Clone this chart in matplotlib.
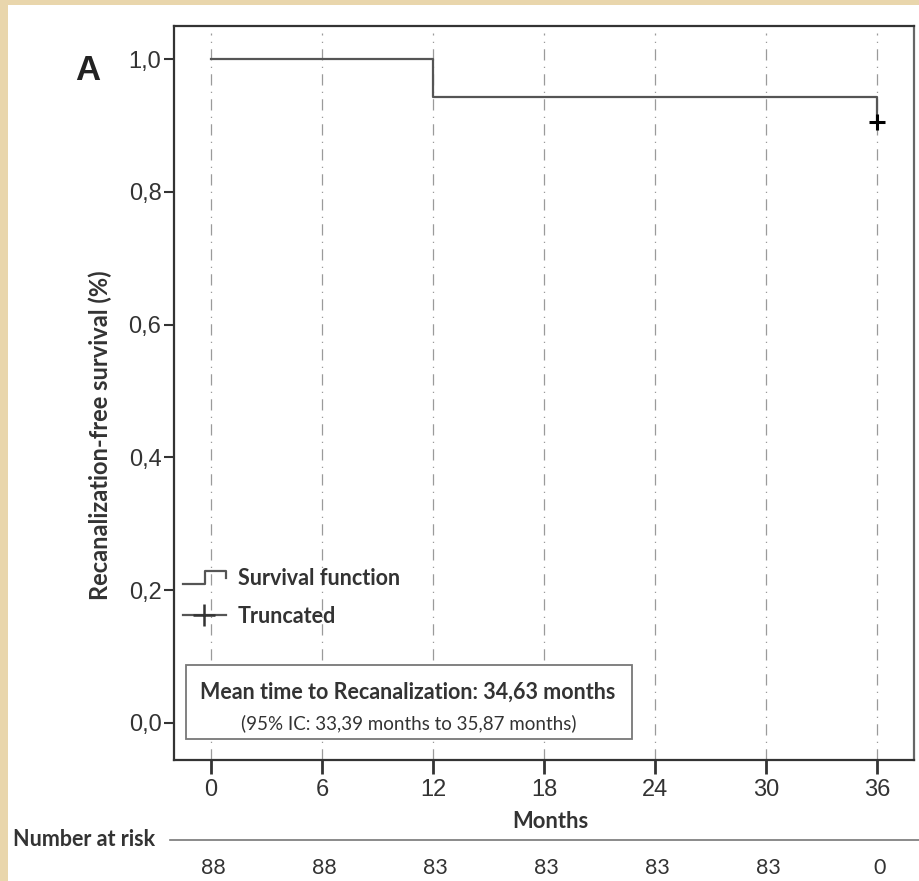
import matplotlib
matplotlib.use("Agg")
import matplotlib.pyplot as plt
from matplotlib.lines import Line2D
from matplotlib.patches import Rectangle
from matplotlib.legend_handler import HandlerBase
import matplotlib.transforms as mtransforms

# data
months = [0, 12, 36]
survival = [1.0, 0.943, 0.905]
censor_t = [36]
censor_s = [0.905]
x_ticks = [0, 6, 12, 18, 24, 30, 36]
y_ticks = [0.0, 0.2, 0.4, 0.6, 0.8, 1.0]
y_ticklabels = ["0,0", "0,2", "0,4", "0,6", "0,8", "1,0"]
at_risk = [88, 88, 83, 83, 83, 83, 0]

NARROW = ["Liberation Sans", "DejaVu Sans"]
HUMAN = ["Lato", "DejaVu Sans"]
INK = "#333333"


class StepHandler(HandlerBase):
    def create_artists(self, legend, orig_handle, xdescent, ydescent,
                       width, height, fontsize, trans):
        x0, y0 = -xdescent, -ydescent
        xs = [x0, x0 + width * 0.52, x0 + width * 0.52, x0 + width, x0 + width]
        ys = [y0 + height * 0.05, y0 + height * 0.05, y0 + height * 0.9,
              y0 + height * 0.9, y0 + height * 0.45]
        ln = Line2D(xs, ys, color="#555555", lw=1.6, transform=trans)
        return [ln]


fig = plt.figure(figsize=(9.2, 8.81), dpi=100)
fig.patch.set_facecolor("#E9D6AC")
fig.add_artist(Rectangle((8 / 920, 0), 1 - 8 / 920, (881 - 5) / 881,
                         transform=fig.transFigure, facecolor="white",
                         edgecolor="none", zorder=-1))

ax = fig.add_axes([174 / 920, (881 - 760) / 881, 740 / 920, 734 / 881])
ax.set_xlim(-2, 38)
ax.set_ylim(-0.056, 1.05)

for t in x_ticks:
    ax.axvline(t, ymax=0.99, color="#9a9a9a", lw=0.9,
               linestyle=(0, (9, 5, 1, 5)), zorder=1)

ax.step(months, survival, where="post", color="#555555", lw=1.6, zorder=3)
ax.plot(censor_t, censor_s, linestyle="none", marker="+", color="black",
        markersize=12, markeredgewidth=2.2, zorder=4)

for side in ["left", "bottom", "top", "right"]:
    ax.spines[side].set_color(INK)
    ax.spines[side].set_linewidth(1.6)
ax.spines["right"].set_color("#666666")

ax.set_xticks(x_ticks)
ax.set_xticklabels([str(t) for t in x_ticks])
ax.set_yticks(y_ticks)
ax.set_yticklabels(y_ticklabels)
ax.tick_params(axis="y", length=7, width=1.5, color=INK, pad=2,
               labelsize=17, labelcolor=INK)
ax.tick_params(axis="x", length=10, width=2, color=INK, pad=4,
               labelsize=17, labelcolor=INK)
for lab in ax.get_xticklabels() + ax.get_yticklabels():
    lab.set_family(NARROW)

ax.text(-0.099, 0.443, "Recanalization-free survival (%)", rotation=90,
        ha="center", va="center", transform=ax.transAxes,
        family=HUMAN, fontweight="bold", fontsize=17, color=INK)

ax.text(-0.116, 0.94, "A", transform=ax.transAxes, ha="center", va="center",
        family=NARROW, fontweight="bold", fontsize=25, color="#222222")

ax.text(0.509, -0.07, "Months", transform=ax.transAxes, ha="center",
        va="top", family=HUMAN, fontweight="bold", fontsize=15.8, color=INK)

# legend
h_step = Line2D([], [], color="#555555")
h_cens = Line2D([], [], color="#555555", lw=1.6, marker="+", markersize=16,
                markeredgewidth=1.8, markeredgecolor="#333333")
ax.legend([h_step, h_cens], ["Survival function", "Truncated"],
          handler_map={h_step: StepHandler()},
          loc="upper left", bbox_to_anchor=(0.012, 0.262), frameon=False,
          borderpad=0, borderaxespad=0, handlelength=2.0, handletextpad=0.55,
          labelspacing=0.8,
          prop={"family": HUMAN, "weight": "bold", "size": 15.5})
for txt in ax.get_legend().get_texts():
    txt.set_color(INK)

# summary box
ax.add_patch(Rectangle((0.016, 0.0286), 0.603, 0.1004, transform=ax.transAxes,
                       facecolor="white", edgecolor="#777777", lw=1.3,
                       zorder=5))
ax.text(0.316, 0.0926, "Mean time to Recanalization: 34,63 months",
        transform=ax.transAxes, ha="center", va="center", zorder=6,
        family=HUMAN, fontweight="bold", fontsize=15.5, color=INK)
ax.text(0.317, 0.0504, "(95% IC: 33,39 months to 35,87 months)",
        transform=ax.transAxes, ha="center", va="center", zorder=6,
        family=HUMAN, fontsize=13.5, color=INK)

# number at risk table
fig.text(13 / 920, (881 - 840) / 881, "Number at risk", ha="left",
         va="center", family=HUMAN, fontweight="bold", fontsize=15.5, color=INK)
fig.add_artist(Line2D([170 / 920, 1.0], [(881 - 840) / 881] * 2,
                      transform=fig.transFigure, color="#777777", lw=1.2))
risk_tr = mtransforms.blended_transform_factory(ax.transData, fig.transFigure)
for t, n in zip(x_ticks, at_risk):
    ax.text(t + 0.15, (881 - 868) / 881, str(n), transform=risk_tr,
            ha="center", va="center", family=HUMAN, fontsize=15.5, color=INK,
            clip_on=False)

fig.savefig("out.png", dpi=100, facecolor=fig.get_facecolor())
